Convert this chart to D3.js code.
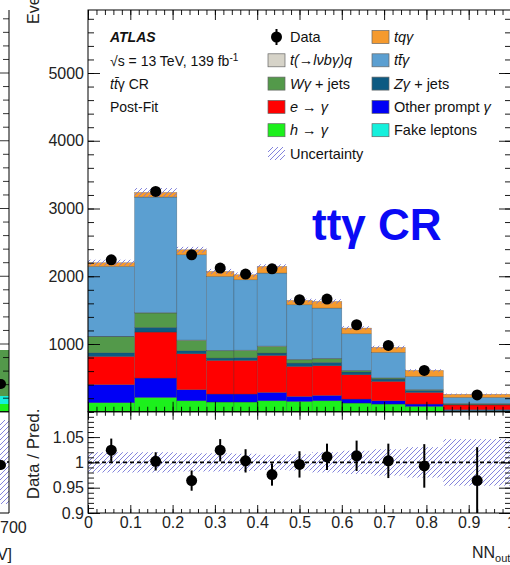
<!DOCTYPE html>
<html>
<head>
<meta charset="utf-8">
<script src="https://cdn.jsdelivr.net/npm/d3@7/dist/d3.min.js"></script>
<style>
  html, body { margin: 0; padding: 0; background: #fff; }
  svg { display: block; font-family: "Liberation Sans", Arial, Helvetica, sans-serif; }
</style>
</head>
<body>
<svg id="chart" width="510" height="565"></svg>
<script>
// ---- binning of the NN output ----
const binEdges = [0, 0.11, 0.21, 0.28, 0.345, 0.40, 0.47, 0.53, 0.60, 0.67, 0.75, 0.84, 1.0];

// ---- post-fit predicted yields per bin (stacked bottom to top) ----
const fakeLeptons  = [5, 5, 5, 5, 5, 5, 5, 5, 5, 5, 5, 2];
const hToGamma     = [128, 206, 157, 138, 138, 157, 147, 157, 123, 108, 74, 18];
const otherPrompt  = [267, 286, 163, 118, 118, 123, 74, 79, 59, 49, 34, 10];
const eToGamma     = [416, 679, 531, 496, 496, 546, 443, 438, 359, 286, 172, 70];
const zGammaJets   = [54, 69, 44, 35, 43, 35, 49, 49, 40, 34, 30, 10];
const wGammaJets   = [237, 212, 153, 108, 104, 98, 49, 54, 19, 15, 10, 10];
const tLvbGammaQ   = [5, 5, 5, 5, 5, 5, 5, 5, 4, 4, 3, 2];
const ttGamma      = [1033, 1707, 1259, 1092, 1039, 1078, 807, 743, 542, 375, 193, 90];
const tqGamma      = [55, 68, 74, 74, 74, 98, 64, 98, 84, 74, 89, 45];

// ---- observed data ----
const dataCounts   = [2243, 3252, 2317, 2121, 2032, 2110, 1653, 1663, 1284, 979, 610, 248];
const dataErrors   = [47, 57, 48, 46, 45, 46, 41, 41, 36, 31, 25, 16];

// ---- ratio panel ----
const ratioValues  = [1.024, 1.002, 0.964, 1.024, 1.003, 0.976, 0.996, 1.011, 1.013, 1.003, 0.993, 0.964];
const ratioErrors  = [0.023, 0.018, 0.020, 0.022, 0.023, 0.022, 0.026, 0.026, 0.030, 0.034, 0.043, 0.066];
const relUncert    = [0.020, 0.020, 0.018, 0.018, 0.017, 0.015, 0.016, 0.020, 0.023, 0.026, 0.030, 0.046];

// ---- axis ticks ----
const xTickValues     = [0, 0.1, 0.2, 0.3, 0.4, 0.5, 0.6, 0.7, 0.8, 0.9, 1.0];
const eventTickValues = [1000, 2000, 3000, 4000, 5000];
const ratioTickValues = [0.9, 0.95, 1, 1.05];

// ---- legend ----
const processKeys   = ["fake", "h", "other", "e", "z", "w", "tlvbq", "tt", "tq"];
const processColors = ["#15f0dc", "#1cf01c", "#0000f5", "#ff0000", "#0d5a82", "#53994a", "#d6d3c8", "#5b9fd1", "#f59a2e"];
const legendCol1 = ["Data", "*t(→lνbγ)q*", "*Wγ* + jets", "*e* → *γ*", "*h* → *γ*", "Uncertainty"];
const legendCol1Keys = ["data", "tlvbq", "w", "e", "h", "unc"];
const legendCol2 = ["*tqγ*", "*tt\u0304γ*", "*Zγ* + jets", "Other prompt *γ*", "Fake leptons"];
const legendCol2Keys = ["tq", "tt", "z", "other", "fake"];

const svg = d3.select("#chart");
const FONT = "\"Liberation Sans\", Arial, Helvetica, sans-serif";

const left = 88, right = 511;
const x = d3.scaleLinear().domain([0, 1]).range([left, right]);
const yMain = d3.scaleLinear().domain([0, 5930]).range([411.75, 10]);
const yRatio = d3.scaleLinear().domain([0.9, 1.1]).range([513, 411.75]);

const colorOf = Object.fromEntries(processKeys.map((k, i) => [k, processColors[i]]));

// hatch pattern for the uncertainty band
const defs = svg.append("defs");
const hatch = defs.append("pattern")
  .attr("id", "hatch").attr("patternUnits", "userSpaceOnUse")
  .attr("width", 5).attr("height", 5);
hatch.append("path")
  .attr("d", "M0,5 L5,0 M-1,1 L1,-1 M4,6 L6,4")
  .attr("stroke", "#7676d8").attr("stroke-width", 0.9).attr("fill", "none");

// ---------- neighbouring panel edge on the far left ----------
const nb = svg.append("g");
const nbX = 9;
nb.append("rect").attr("x", 0).attr("width", nbX).attr("y", 350).attr("height", 46).attr("fill", "#53994a");
nb.append("rect").attr("x", 0).attr("width", nbX).attr("y", 396).attr("height", 8).attr("fill", "#15f0dc");
nb.append("rect").attr("x", 0).attr("width", nbX).attr("y", 404).attr("height", 7.75).attr("fill", "#1cf01c");
nb.append("circle").attr("cx", 1).attr("cy", 384).attr("r", 5).attr("fill", "#000");
nb.append("rect").attr("x", 0).attr("width", nbX).attr("y", 420).attr("height", 84).attr("fill", "url(#hatch)");
nb.append("line").attr("x1", 0).attr("x2", nbX).attr("y1", 462).attr("y2", 462)
  .attr("stroke", "#000").attr("stroke-width", 1.5).attr("stroke-dasharray", "4,3");
nb.append("circle").attr("cx", 1).attr("cy", 465).attr("r", 5).attr("fill", "#000");
nb.append("line").attr("x1", nbX).attr("x2", nbX).attr("y1", 10).attr("y2", 513)
  .attr("stroke", "#000").attr("stroke-width", 1);
d3.range(0, 5930, 200).forEach(v => {
  const long = v % 1000 === 0;
  nb.append("line").attr("x1", nbX - (long ? 12 : 6)).attr("x2", nbX)
    .attr("y1", yMain(v)).attr("y2", yMain(v)).attr("stroke", "#000").attr("stroke-width", 0.8);
});
nb.append("line").attr("x1", 0).attr("x2", nbX).attr("y1", 411.75).attr("y2", 411.75).attr("stroke", "#000");
nb.append("line").attr("x1", 0).attr("x2", nbX).attr("y1", 513).attr("y2", 513).attr("stroke", "#000");
nb.append("text").attr("x", 0).attr("y", 533)
  .attr("font-size", 16).attr("font-family", FONT).attr("fill", "#222").text("700");
nb.append("text").attr("x", 12).attr("y", 560).attr("text-anchor", "end")
  .attr("font-size", 16).attr("font-family", FONT).attr("fill", "#222").text("[GeV]");
// white margin separating the panels
svg.append("rect").attr("x", 11).attr("y", 0).attr("width", 17).attr("height", 515).attr("fill", "#fff");

// ---------- main panel: stacked histogram ----------
const rows = binEdges.slice(0, -1).map((lo, i) => ({
  lo, hi: binEdges[i + 1],
  fake: fakeLeptons[i], h: hToGamma[i], other: otherPrompt[i], e: eToGamma[i],
  z: zGammaJets[i], w: wGammaJets[i], tlvbq: tLvbGammaQ[i], tt: ttGamma[i], tq: tqGamma[i]
}));
const stacked = d3.stack().keys(processKeys)(rows);

const main = svg.append("g");
stacked.forEach(layer => {
  main.append("g").selectAll("rect").data(layer).join("rect")
    .attr("x", d => x(d.data.lo))
    .attr("width", d => x(d.data.hi) - x(d.data.lo))
    .attr("y", d => yMain(d[1]))
    .attr("height", d => Math.max(0, yMain(d[0]) - yMain(d[1])))
    .attr("fill", colorOf[layer.key])
    .attr("stroke", "rgba(40,40,40,0.45)").attr("stroke-width", 0.5);
});

// uncertainty band around the total prediction
const totals = stacked[stacked.length - 1].map(d => d[1]);
main.append("g").selectAll("rect").data(rows).join("rect")
  .attr("x", d => x(d.lo)).attr("width", d => x(d.hi) - x(d.lo))
  .attr("y", (d, i) => yMain(totals[i] * (1 + relUncert[i])))
  .attr("height", (d, i) => yMain(totals[i] * (1 - relUncert[i])) - yMain(totals[i] * (1 + relUncert[i])))
  .attr("fill", "url(#hatch)");

// data points
const centers = rows.map(d => (d.lo + d.hi) / 2);
main.append("g").selectAll("line").data(dataCounts).join("line")
  .attr("x1", (d, i) => x(centers[i])).attr("x2", (d, i) => x(centers[i]))
  .attr("y1", (d, i) => yMain(d + dataErrors[i])).attr("y2", (d, i) => yMain(d - dataErrors[i]))
  .attr("stroke", "#000").attr("stroke-width", 2);
main.append("g").selectAll("circle").data(dataCounts).join("circle")
  .attr("cx", (d, i) => x(centers[i])).attr("cy", d => yMain(d)).attr("r", 5.5).attr("fill", "#000");

// ---------- ratio panel ----------
const ratio = svg.append("g");
ratio.append("g").selectAll("rect").data(rows).join("rect")
  .attr("x", d => x(d.lo)).attr("width", d => x(d.hi) - x(d.lo))
  .attr("y", (d, i) => yRatio(1 + relUncert[i]))
  .attr("height", (d, i) => yRatio(1 - relUncert[i]) - yRatio(1 + relUncert[i]))
  .attr("fill", "url(#hatch)");
ratio.append("line").attr("x1", left).attr("x2", right).attr("y1", yRatio(1)).attr("y2", yRatio(1))
  .attr("stroke", "#000").attr("stroke-width", 1.6).attr("stroke-dasharray", "4,3");
ratio.append("g").selectAll("line").data(ratioValues).join("line")
  .attr("x1", (d, i) => x(centers[i])).attr("x2", (d, i) => x(centers[i]))
  .attr("y1", (d, i) => yRatio(d + ratioErrors[i])).attr("y2", (d, i) => yRatio(Math.max(0.9, d - ratioErrors[i])))
  .attr("stroke", "#000").attr("stroke-width", 2);
ratio.append("g").selectAll("circle").data(ratioValues).join("circle")
  .attr("cx", (d, i) => x(centers[i])).attr("cy", d => yRatio(d)).attr("r", 5.5).attr("fill", "#000");

// ---------- frames and axes (ticks pointing inward) ----------
function styleAxis(g) {
  g.select(".domain").remove();
  g.selectAll(".tick line").attr("stroke", "#000").attr("stroke-width", 0.9);
  g.selectAll("text").attr("font-size", 16).attr("font-family", FONT).attr("fill", "#222");
}
function addAxis(axisFn, scale, translate, major, minor, bigLen, smallLen, fmt) {
  svg.append("g").attr("transform", translate)
    .call(axisFn(scale).tickValues(minor).tickSize(-smallLen).tickFormat(""))
    .call(styleAxis);
  svg.append("g").attr("transform", translate)
    .call(axisFn(scale).tickValues(major).tickSize(-bigLen).tickPadding(4).tickFormat(fmt || ""))
    .call(styleAxis);
}
const xMinor = d3.range(0, 1.0001, 0.02);
const evMinor = d3.range(0, 5930, 200);
const rMinor = d3.range(0.9, 1.1001, 0.01);
const xFmt = d => d3.format("~g")(d);

addAxis(d3.axisLeft, yMain, `translate(${left},0)`, eventTickValues, evMinor, 12, 6, d => d);
addAxis(d3.axisRight, yMain, `translate(${right},0)`, eventTickValues, evMinor, 12, 6);
addAxis(d3.axisTop, x, `translate(0,10)`, xTickValues, xMinor, 10, 5);
addAxis(d3.axisBottom, x, `translate(0,411.75)`, xTickValues, xMinor, 10, 5);
addAxis(d3.axisTop, x, `translate(0,411.75)`, xTickValues, xMinor, 8, 4);
addAxis(d3.axisBottom, x, `translate(0,513)`, xTickValues, xMinor, 8, 4, xFmt);
addAxis(d3.axisLeft, yRatio, `translate(${left},0)`, ratioTickValues, rMinor, 12, 6, d => d3.format("~g")(d));
addAxis(d3.axisRight, yRatio, `translate(${right},0)`, ratioTickValues, rMinor, 12, 6);

svg.append("rect").attr("x", left).attr("y", 10).attr("width", right - left).attr("height", 411.75 - 10)
  .attr("fill", "none").attr("stroke", "#000").attr("stroke-width", 1);
svg.append("rect").attr("x", left).attr("y", 411.75).attr("width", right - left).attr("height", 513 - 411.75)
  .attr("fill", "none").attr("stroke", "#000").attr("stroke-width", 1);

// ---------- axis titles ----------
svg.append("text").attr("transform", "translate(39,24) rotate(-90)")
  .attr("font-size", 16).attr("font-family", FONT).attr("fill", "#222").text("Events");
svg.append("text").attr("transform", "translate(39,454) rotate(-90)").attr("text-anchor", "middle")
  .attr("font-size", 17).attr("font-family", FONT).attr("fill", "#222").text("Data / Pred.");
const xt = svg.append("text").attr("x", 472).attr("y", 558)
  .attr("font-size", 16).attr("font-family", FONT).attr("fill", "#222");
xt.append("tspan").text("NN");
xt.append("tspan").attr("font-size", 11).attr("dy", 4).text("out");

// ---------- labels ----------
function richText(sel, str) {
  str.split("*").forEach((part, i) => {
    if (part) sel.append("tspan").attr("font-style", i % 2 ? "italic" : "normal").text(part);
  });
}
const info = svg.append("g").attr("font-family", FONT).attr("fill", "#111");
info.append("text").attr("x", 110).attr("y", 42).attr("font-size", 14)
  .attr("font-weight", "bold").attr("font-style", "italic").text("ATLAS");
const lumi = info.append("text").attr("x", 110).attr("y", 66).attr("font-size", 14);
lumi.append("tspan").text("√s = 13 TeV, 139 fb");
lumi.append("tspan").attr("font-size", 10).attr("dy", -5).text("-1");
richText(info.append("text").attr("x", 110).attr("y", 89).attr("font-size", 14), "*tt\u0304*γ CR");
info.append("text").attr("x", 110).attr("y", 112).attr("font-size", 14).text("Post-Fit");

svg.append("text").attr("x", 312).attr("y", 240).attr("font-size", 44).attr("font-weight", "bold")
  .attr("font-family", FONT).attr("fill", "#0a0af5").text("ttγ CR");

// ---------- legend ----------
const legend = svg.append("g").attr("font-family", FONT).attr("font-size", 14.5).attr("fill", "#111");
function legendEntry(xb, yc, key, label) {
  const g = legend.append("g");
  if (key === "data") {
    g.append("line").attr("x1", xb + 8.5).attr("x2", xb + 8.5).attr("y1", yc - 8).attr("y2", yc + 8)
      .attr("stroke", "#000").attr("stroke-width", 2);
    g.append("circle").attr("cx", xb + 8.5).attr("cy", yc).attr("r", 5.5).attr("fill", "#000");
  } else {
    g.append("rect").attr("x", xb).attr("y", yc - 6.5).attr("width", 17).attr("height", 13)
      .attr("fill", key === "unc" ? "url(#hatch)" : colorOf[key])
      .attr("stroke", key === "unc" ? "none" : "#666").attr("stroke-width", 0.7);
  }
  richText(g.append("text").attr("x", xb + 22).attr("y", yc + 5), label);
}
legendCol1.forEach((l, i) => legendEntry(268, 37 + i * 23.3, legendCol1Keys[i], l));
legendCol2.forEach((l, i) => legendEntry(372, 37 + i * 23.3, legendCol2Keys[i], l));
</script>
</body>
</html>
